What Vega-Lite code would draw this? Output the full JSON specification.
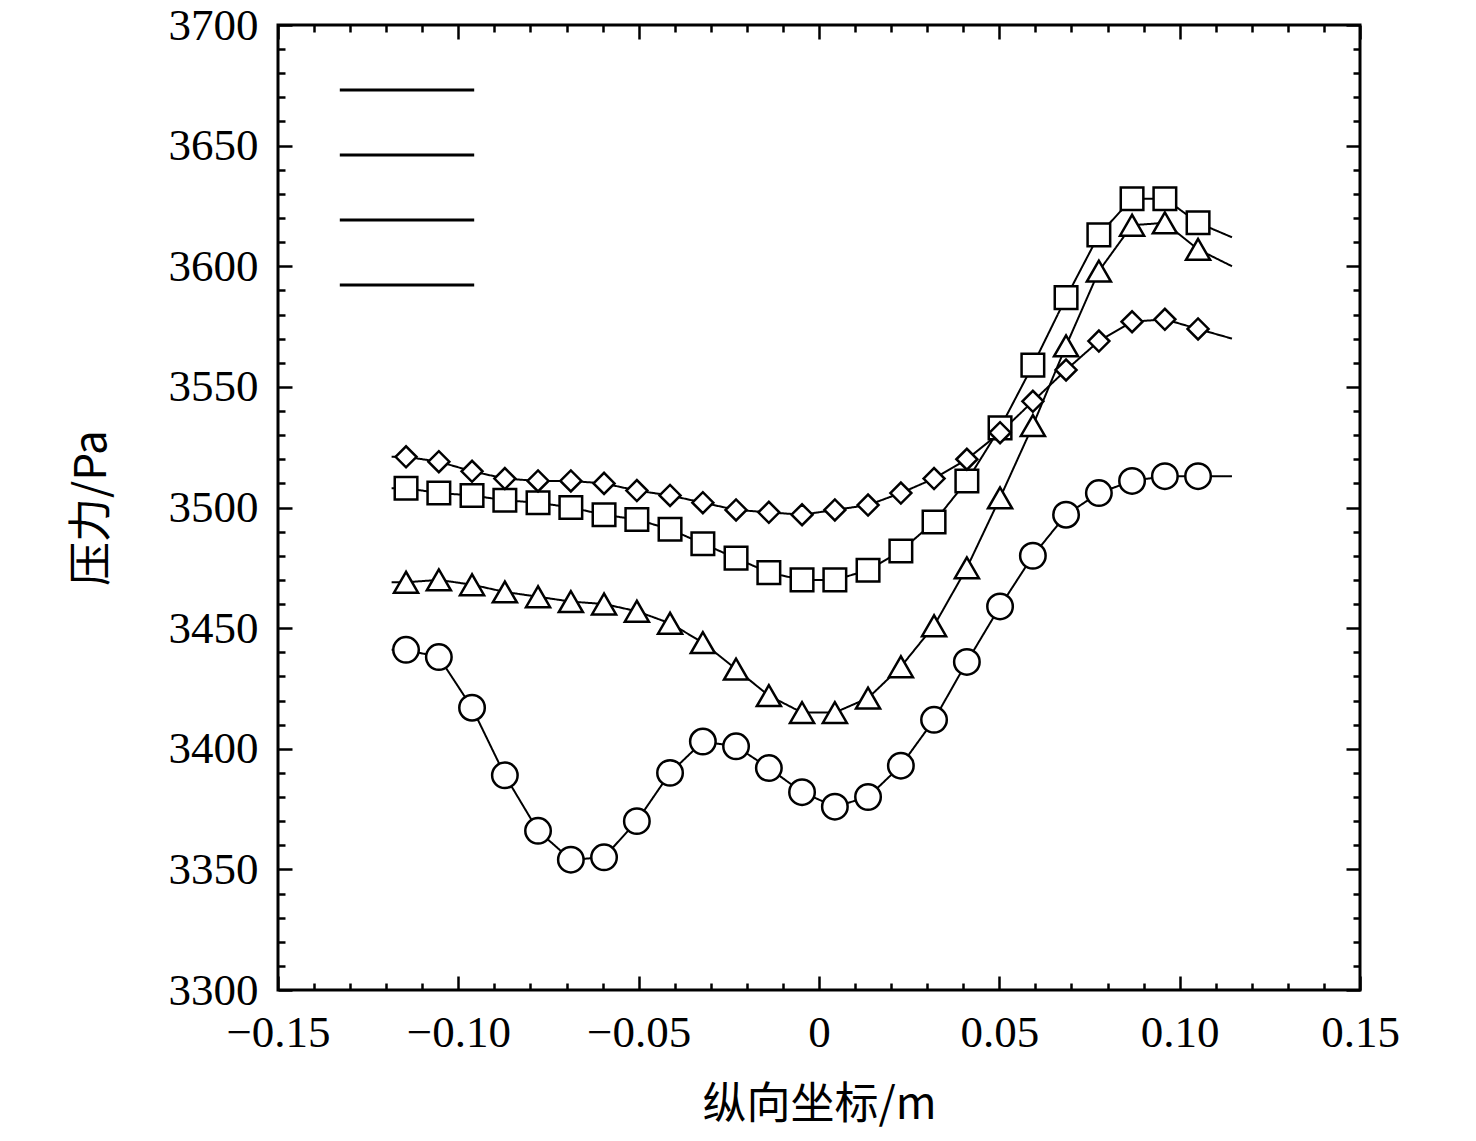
{
  "$schema": "https://vega.github.io/schema/vega-lite/v6.json",
  "width": 1082,
  "height": 965,
  "autosize": "none",
  "padding": {"left": 278, "top": 25, "right": 116, "bottom": 151},
  "background": "white",
  "config": {
    "view": {"stroke": "black", "strokeWidth": 3},
    "font": "Liberation Serif",
    "axis": {"domain": false, "grid": false, "tickColor": "black", "tickWidth": 2.5, "labelColor": "black", "labelFont": "Liberation Serif", "labelFontSize": 45, "titleFont": "Noto Sans CJK SC", "titleFontSize": 44, "titleFontWeight": "normal", "titleColor": "black"}
  },
  "data": {"values": [
    {"s":"孔倾斜角为30°","x":-0.1185,"y":3441,"m":0},
    {"s":"孔倾斜角为30°","x":-0.1145,"y":3441,"m":1},{"s":"孔倾斜角为30°","x":-0.1054,"y":3438,"m":1},{"s":"孔倾斜角为30°","x":-0.0962,"y":3417,"m":1},{"s":"孔倾斜角为30°","x":-0.0871,"y":3389,"m":1},{"s":"孔倾斜角为30°","x":-0.0779,"y":3366,"m":1},{"s":"孔倾斜角为30°","x":-0.0688,"y":3354,"m":1},{"s":"孔倾斜角为30°","x":-0.0596,"y":3355,"m":1},{"s":"孔倾斜角为30°","x":-0.0505,"y":3370,"m":1},{"s":"孔倾斜角为30°","x":-0.0413,"y":3390,"m":1},{"s":"孔倾斜角为30°","x":-0.0322,"y":3403,"m":1},{"s":"孔倾斜角为30°","x":-0.0230,"y":3401,"m":1},{"s":"孔倾斜角为30°","x":-0.0139,"y":3392,"m":1},{"s":"孔倾斜角为30°","x":-0.0047,"y":3382,"m":1},{"s":"孔倾斜角为30°","x":0.0044,"y":3376,"m":1},{"s":"孔倾斜角为30°","x":0.0136,"y":3380,"m":1},{"s":"孔倾斜角为30°","x":0.0227,"y":3393,"m":1},{"s":"孔倾斜角为30°","x":0.0319,"y":3412,"m":1},{"s":"孔倾斜角为30°","x":0.0410,"y":3436,"m":1},{"s":"孔倾斜角为30°","x":0.0502,"y":3459,"m":1},{"s":"孔倾斜角为30°","x":0.0593,"y":3480,"m":1},{"s":"孔倾斜角为30°","x":0.0685,"y":3497,"m":1},{"s":"孔倾斜角为30°","x":0.0776,"y":3506,"m":1},{"s":"孔倾斜角为30°","x":0.0868,"y":3511,"m":1},{"s":"孔倾斜角为30°","x":0.0959,"y":3513,"m":1},{"s":"孔倾斜角为30°","x":0.1051,"y":3513,"m":1},
    {"s":"孔倾斜角为30°","x":0.1145,"y":3513,"m":0},
    {"s":"孔倾斜角为50°","x":-0.1185,"y":3469,"m":0},
    {"s":"孔倾斜角为50°","x":-0.1145,"y":3469,"m":1},{"s":"孔倾斜角为50°","x":-0.1054,"y":3470,"m":1},{"s":"孔倾斜角为50°","x":-0.0962,"y":3468,"m":1},{"s":"孔倾斜角为50°","x":-0.0871,"y":3465,"m":1},{"s":"孔倾斜角为50°","x":-0.0779,"y":3463,"m":1},{"s":"孔倾斜角为50°","x":-0.0688,"y":3461,"m":1},{"s":"孔倾斜角为50°","x":-0.0596,"y":3460,"m":1},{"s":"孔倾斜角为50°","x":-0.0505,"y":3457,"m":1},{"s":"孔倾斜角为50°","x":-0.0413,"y":3452,"m":1},{"s":"孔倾斜角为50°","x":-0.0322,"y":3444,"m":1},{"s":"孔倾斜角为50°","x":-0.0230,"y":3433,"m":1},{"s":"孔倾斜角为50°","x":-0.0139,"y":3422,"m":1},{"s":"孔倾斜角为50°","x":-0.0047,"y":3415,"m":1},{"s":"孔倾斜角为50°","x":0.0044,"y":3415,"m":1},{"s":"孔倾斜角为50°","x":0.0136,"y":3421,"m":1},{"s":"孔倾斜角为50°","x":0.0227,"y":3434,"m":1},{"s":"孔倾斜角为50°","x":0.0319,"y":3451,"m":1},{"s":"孔倾斜角为50°","x":0.0410,"y":3475,"m":1},{"s":"孔倾斜角为50°","x":0.0502,"y":3504,"m":1},{"s":"孔倾斜角为50°","x":0.0593,"y":3534,"m":1},{"s":"孔倾斜角为50°","x":0.0685,"y":3567,"m":1},{"s":"孔倾斜角为50°","x":0.0776,"y":3598,"m":1},{"s":"孔倾斜角为50°","x":0.0868,"y":3617,"m":1},{"s":"孔倾斜角为50°","x":0.0959,"y":3618,"m":1},{"s":"孔倾斜角为50°","x":0.1051,"y":3607,"m":1},
    {"s":"孔倾斜角为50°","x":0.1145,"y":3600,"m":0},
    {"s":"孔倾斜角为70°","x":-0.1185,"y":3508,"m":0},
    {"s":"孔倾斜角为70°","x":-0.1145,"y":3508,"m":1},{"s":"孔倾斜角为70°","x":-0.1054,"y":3506,"m":1},{"s":"孔倾斜角为70°","x":-0.0962,"y":3505,"m":1},{"s":"孔倾斜角为70°","x":-0.0871,"y":3503,"m":1},{"s":"孔倾斜角为70°","x":-0.0779,"y":3502,"m":1},{"s":"孔倾斜角为70°","x":-0.0688,"y":3500,"m":1},{"s":"孔倾斜角为70°","x":-0.0596,"y":3497,"m":1},{"s":"孔倾斜角为70°","x":-0.0505,"y":3495,"m":1},{"s":"孔倾斜角为70°","x":-0.0413,"y":3491,"m":1},{"s":"孔倾斜角为70°","x":-0.0322,"y":3485,"m":1},{"s":"孔倾斜角为70°","x":-0.0230,"y":3479,"m":1},{"s":"孔倾斜角为70°","x":-0.0139,"y":3473,"m":1},{"s":"孔倾斜角为70°","x":-0.0047,"y":3470,"m":1},{"s":"孔倾斜角为70°","x":0.0044,"y":3470,"m":1},{"s":"孔倾斜角为70°","x":0.0136,"y":3474,"m":1},{"s":"孔倾斜角为70°","x":0.0227,"y":3482,"m":1},{"s":"孔倾斜角为70°","x":0.0319,"y":3494,"m":1},{"s":"孔倾斜角为70°","x":0.0410,"y":3511,"m":1},{"s":"孔倾斜角为70°","x":0.0502,"y":3533,"m":1},{"s":"孔倾斜角为70°","x":0.0593,"y":3559,"m":1},{"s":"孔倾斜角为70°","x":0.0685,"y":3587,"m":1},{"s":"孔倾斜角为70°","x":0.0776,"y":3613,"m":1},{"s":"孔倾斜角为70°","x":0.0868,"y":3628,"m":1},{"s":"孔倾斜角为70°","x":0.0959,"y":3628,"m":1},{"s":"孔倾斜角为70°","x":0.1051,"y":3618,"m":1},
    {"s":"孔倾斜角为70°","x":0.1145,"y":3612,"m":0},
    {"s":"孔倾斜角为90°","x":-0.1185,"y":3521,"m":0},
    {"s":"孔倾斜角为90°","x":-0.1145,"y":3521,"m":1},{"s":"孔倾斜角为90°","x":-0.1054,"y":3519,"m":1},{"s":"孔倾斜角为90°","x":-0.0962,"y":3515,"m":1},{"s":"孔倾斜角为90°","x":-0.0871,"y":3512,"m":1},{"s":"孔倾斜角为90°","x":-0.0779,"y":3511,"m":1},{"s":"孔倾斜角为90°","x":-0.0688,"y":3511,"m":1},{"s":"孔倾斜角为90°","x":-0.0596,"y":3510,"m":1},{"s":"孔倾斜角为90°","x":-0.0505,"y":3507,"m":1},{"s":"孔倾斜角为90°","x":-0.0413,"y":3505,"m":1},{"s":"孔倾斜角为90°","x":-0.0322,"y":3502,"m":1},{"s":"孔倾斜角为90°","x":-0.0230,"y":3499,"m":1},{"s":"孔倾斜角为90°","x":-0.0139,"y":3498,"m":1},{"s":"孔倾斜角为90°","x":-0.0047,"y":3497,"m":1},{"s":"孔倾斜角为90°","x":0.0044,"y":3499,"m":1},{"s":"孔倾斜角为90°","x":0.0136,"y":3501,"m":1},{"s":"孔倾斜角为90°","x":0.0227,"y":3506,"m":1},{"s":"孔倾斜角为90°","x":0.0319,"y":3512,"m":1},{"s":"孔倾斜角为90°","x":0.0410,"y":3520,"m":1},{"s":"孔倾斜角为90°","x":0.0502,"y":3531,"m":1},{"s":"孔倾斜角为90°","x":0.0593,"y":3544,"m":1},{"s":"孔倾斜角为90°","x":0.0685,"y":3557,"m":1},{"s":"孔倾斜角为90°","x":0.0776,"y":3569,"m":1},{"s":"孔倾斜角为90°","x":0.0868,"y":3577,"m":1},{"s":"孔倾斜角为90°","x":0.0959,"y":3578,"m":1},{"s":"孔倾斜角为90°","x":0.1051,"y":3574,"m":1},
    {"s":"孔倾斜角为90°","x":0.1145,"y":3570,"m":0}
  ]},
  "resolve": {"axis": {"x": "independent", "y": "independent"}, "legend": {"strokeDash": "independent", "shape": "independent", "size": "independent"}},
  "layer": [
    {
      "mark": {"type": "line", "color": "black", "strokeWidth": 2},
      "encoding": {
        "x": {"field": "x", "type": "quantitative", "scale": {"domain": [-0.15, 0.15], "nice": false, "zero": false},
          "axis": {"orient": "bottom", "values": [-0.15, -0.1, -0.05, 0, 0.05, 0.1, 0.15], "tickSize": -14, "labelPadding": 34, "labelExpr": "datum.value == 0 ? '0' : replace(format(datum.value, '.2f'), '-', '−')", "title": "纵向坐标/m", "titlePadding": 28, "labelFlush": false}},
        "y": {"field": "y", "type": "quantitative", "scale": {"domain": [3300, 3700], "nice": false, "zero": false},
          "axis": {"orient": "left", "values": [3300, 3350, 3400, 3450, 3500, 3550, 3600, 3650, 3700], "tickSize": -14, "labelPadding": 34, "format": "d", "title": "压力/Pa", "titlePadding": 54, "labelFlush": false}},
        "detail": {"field": "s"},
        "strokeDash": {"field": "s", "type": "nominal", "scale": {"range": [[1, 0], [1, 0], [1, 0], [1, 0]]},
          "legend": {"orient": "none", "legendX": 104, "legendY": 40, "title": null, "symbolType": "M-4.8,0H4.8", "symbolSize": 784, "symbolStrokeWidth": 3, "symbolStrokeColor": "black", "symbolDash": [1, 0], "labelFontSize": 50, "labelFont": "Noto Sans CJK SC", "labelLimit": 0, "labelOpacity": 0, "labelOffset": 52, "rowPadding": 15}}
      }
    },
    {
      "transform": [{"filter": "datum.m == 1"}],
      "mark": {"type": "point", "filled": true, "fill": "white", "stroke": "black", "strokeWidth": 2.5, "opacity": 1},
      "encoding": {
        "x": {"field": "x", "type": "quantitative", "axis": {"orient": "top", "values": [-0.15, -0.1, -0.05, 0, 0.05, 0.1, 0.15], "tickSize": -14, "labels": false, "title": null}},
        "y": {"field": "y", "type": "quantitative", "axis": {"orient": "right", "values": [3300, 3350, 3400, 3450, 3500, 3550, 3600, 3650, 3700], "tickSize": -14, "labels": false, "title": null}},
        "shape": {"field": "s", "type": "nominal", "scale": {"range": ["circle", "triangle-up", "square", "diamond"]},
          "legend": {"orient": "none", "legendX": 104, "legendY": 40, "title": null, "symbolSize": 650, "symbolFillColor": "white", "symbolStrokeColor": "black", "symbolStrokeWidth": 2.5, "labelFontSize": 50, "labelFont": "Noto Sans CJK SC", "labelColor": "black", "labelLimit": 0, "labelOffset": 52, "rowPadding": 15}},
        "size": {"field": "s", "type": "nominal", "scale": {"range": [650, 440, 200, 330]},
          "legend": {"orient": "none", "legendX": 104, "legendY": 40, "title": null, "symbolOpacity": 0, "labelOpacity": 0, "labelFontSize": 50, "labelFont": "Noto Sans CJK SC", "labelLimit": 0, "labelOffset": 52, "rowPadding": 15}}
      }
    },
    {
      "mark": {"type": "point", "opacity": 0},
      "encoding": {
        "x": {"field": "x", "type": "quantitative", "axis": {"orient": "bottom", "values": [-0.14,-0.13,-0.12,-0.11,-0.09,-0.08,-0.07,-0.06,-0.04,-0.03,-0.02,-0.01,0.01,0.02,0.03,0.04,0.06,0.07,0.08,0.09,0.11,0.12,0.13,0.14], "tickSize": -7, "labels": false, "title": null}},
        "y": {"field": "y", "type": "quantitative", "axis": {"orient": "left", "values": [3310,3320,3330,3340,3360,3370,3380,3390,3410,3420,3430,3440,3460,3470,3480,3490,3510,3520,3530,3540,3560,3570,3580,3590,3610,3620,3630,3640,3660,3670,3680,3690], "tickSize": -7, "labels": false, "title": null}}
      }
    },
    {
      "mark": {"type": "point", "opacity": 0},
      "encoding": {
        "x": {"field": "x", "type": "quantitative", "axis": {"orient": "top", "values": [-0.14,-0.13,-0.12,-0.11,-0.09,-0.08,-0.07,-0.06,-0.04,-0.03,-0.02,-0.01,0.01,0.02,0.03,0.04,0.06,0.07,0.08,0.09,0.11,0.12,0.13,0.14], "tickSize": -7, "labels": false, "title": null}},
        "y": {"field": "y", "type": "quantitative", "axis": {"orient": "right", "values": [3310,3320,3330,3340,3360,3370,3380,3390,3410,3420,3430,3440,3460,3470,3480,3490,3510,3520,3530,3540,3560,3570,3580,3590,3610,3620,3630,3640,3660,3670,3680,3690], "tickSize": -7, "labels": false, "title": null}}
      }
    }
  ]
}
